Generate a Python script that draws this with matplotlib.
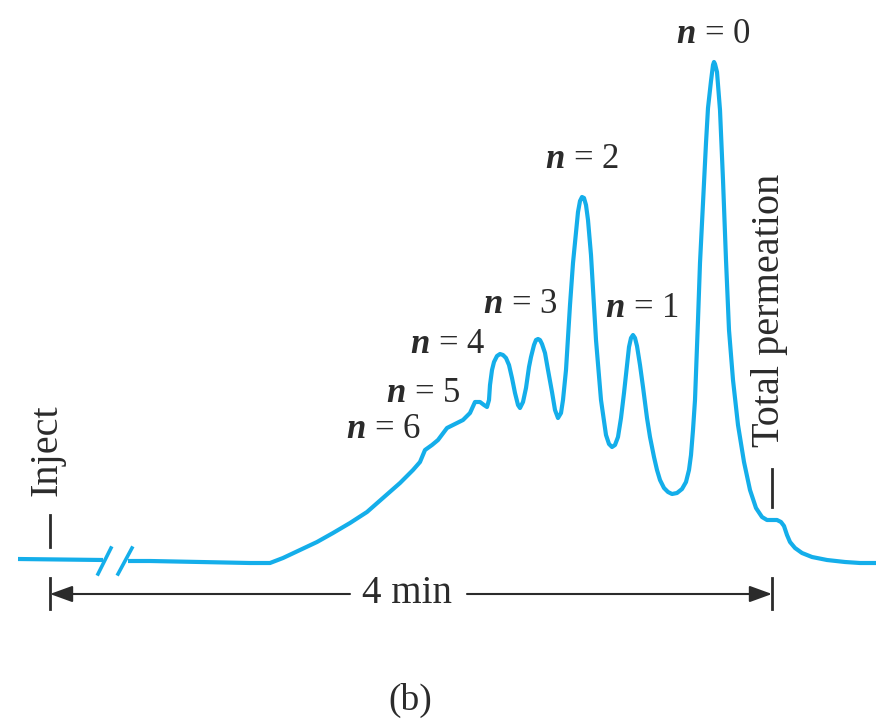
#!/usr/bin/env python3
"""Cromatograma de exclusión por tamaño (b): picos de oligómeros n = 0..6.
Salida: out.png
"""
import matplotlib
matplotlib.use("Agg")
import matplotlib.pyplot as plt

OUT = "out.png"
W, H = 876, 721
BASE_PX = 563          # fila del píxel de la línea base

CYAN = "#14aeea"
INK = "#2b2b2b"

# traza: posición horizontal y respuesta sobre la línea base
PRE_X = [18, 103]
PRE_Y = [4, 3]
TRACE_X = [128, 150, 200, 250, 270, 283, 300, 317, 333, 350, 367, 383, 400,
           413, 420, 425, 432, 438, 447, 455, 463, 470, 475, 480, 484, 487,
           489, 490, 492, 494, 497, 500, 503, 506, 509, 512, 515, 518, 520,
           523, 526, 529, 531, 534, 536, 538, 540, 542, 545, 548, 552, 555,
           558, 561, 563, 566, 570, 573, 576, 578, 580, 582, 584, 586, 588,
           591, 596, 601, 606, 609, 612, 615, 618, 621, 624, 627, 629, 631,
           633, 635, 637, 640, 643, 647, 650, 654, 657, 660, 664, 668, 672,
           677, 682, 686, 689, 691, 693, 695, 698, 700, 703, 706, 708, 711,
           713, 714, 715, 717, 720, 723, 726, 729, 733, 738, 744, 750, 756,
           762, 767, 772, 777, 781, 784, 787, 790, 795, 802, 812, 827, 845,
           860, 876]
TRACE_Y = [2, 2, 1, 0, 0, 5, 13, 21, 30, 40, 51, 65, 80,
           93, 101, 113, 118, 123, 135, 139, 143, 150, 161, 161, 158, 156,
           163, 178, 193, 201, 207, 209, 208, 205, 198, 185, 170, 158, 155,
           161, 175, 196, 206, 218, 223, 224, 223, 219, 210, 193, 171, 153,
           145, 150, 163, 193, 258, 300, 331, 351, 362, 366, 365, 358, 343,
           308, 223, 163, 128, 119, 116, 118, 126, 145, 170, 198, 216, 225,
           228, 225, 217, 198, 176, 145, 126, 106, 93, 83, 75, 71, 69,
           70, 74, 81, 93, 108, 133, 163, 243, 300, 360, 420, 455, 482,
           498, 501, 499, 491, 453, 383, 303, 233, 183, 138, 101, 73, 55,
           46, 43, 43, 43, 41, 37, 28, 21, 15, 10, 6, 3, 1,
           0, 0]

PEAK_LABELS = ["0", "1", "2", "3", "4", "5", "6"]
# centro horizontal y línea base del texto de cada etiqueta (px)
LABEL_POS = [(713, 43), (642, 317), (582, 168), (520, 313),
             (448, 353), (423, 402), (383, 438)]


def py(y):
    """fila de píxel -> coordenada de datos"""
    return BASE_PX - y


def main():
    plt.rcParams["font.family"] = ["Liberation Serif", "DejaVu Serif"]
    plt.rcParams["mathtext.fontset"] = "custom"
    plt.rcParams["mathtext.it"] = "Liberation Serif:italic:bold"
    plt.rcParams["mathtext.rm"] = "Liberation Serif"

    fig = plt.figure(figsize=(W / 100, H / 100), dpi=100)
    ax = fig.add_axes([0, 0, 1, 1])
    ax.set_xlim(0, W)
    ax.set_ylim(BASE_PX - H, BASE_PX)
    ax.axis("off")

    # traza
    ax.plot(PRE_X, PRE_Y, color=CYAN, lw=3, solid_capstyle="butt")
    ax.plot(TRACE_X, TRACE_Y, color=CYAN, lw=3, solid_joinstyle="round",
            solid_capstyle="butt")
    # marcas de eje cortado
    for x0, x1 in [(98, 111), (118, 132)]:
        ax.plot([x0, x1], [py(574), py(548)], color=CYAN, lw=2.6)

    # etiquetas de picos
    for lbl, (x, y) in zip(PEAK_LABELS, LABEL_POS):
        ax.text(x, py(y), r"$n$ = " + lbl, ha="center", va="baseline",
                fontsize=25, color=INK)

    # Inject / Total permeation
    ax.plot([50, 50], [py(515), py(547)], color=INK, lw=2)
    ax.text(47, py(450), "Inject", rotation=90, ha="center", va="center",
            fontsize=29, color=INK)
    ax.plot([772, 772], [py(469), py(507)], color=INK, lw=2)
    ax.text(769, py(310), "Total permeation", rotation=90, ha="center",
            va="center", fontsize=29, color=INK)

    # flecha de 4 min
    ya = py(594)
    style = "-|>,head_length=0.55,head_width=0.2"
    ax.annotate("", xy=(50, ya), xytext=(350, ya),
                arrowprops=dict(arrowstyle=style, color=INK, lw=1.5,
                                mutation_scale=25, shrinkA=0, shrinkB=0))
    ax.annotate("", xy=(772, ya), xytext=(467, ya),
                arrowprops=dict(arrowstyle=style, color=INK, lw=1.5,
                                mutation_scale=25, shrinkA=0, shrinkB=0))
    for x in (50, 772):
        ax.plot([x, x], [py(578), py(609)], color=INK, lw=2)
    ax.text(407, py(603), "4 min", ha="center", va="baseline",
            fontsize=28, color=INK)

    ax.text(410, py(700), "(b)", ha="center", va="center",
            fontsize=27, color=INK)

    fig.savefig(OUT, dpi=100)


if __name__ == "__main__":
    main()
